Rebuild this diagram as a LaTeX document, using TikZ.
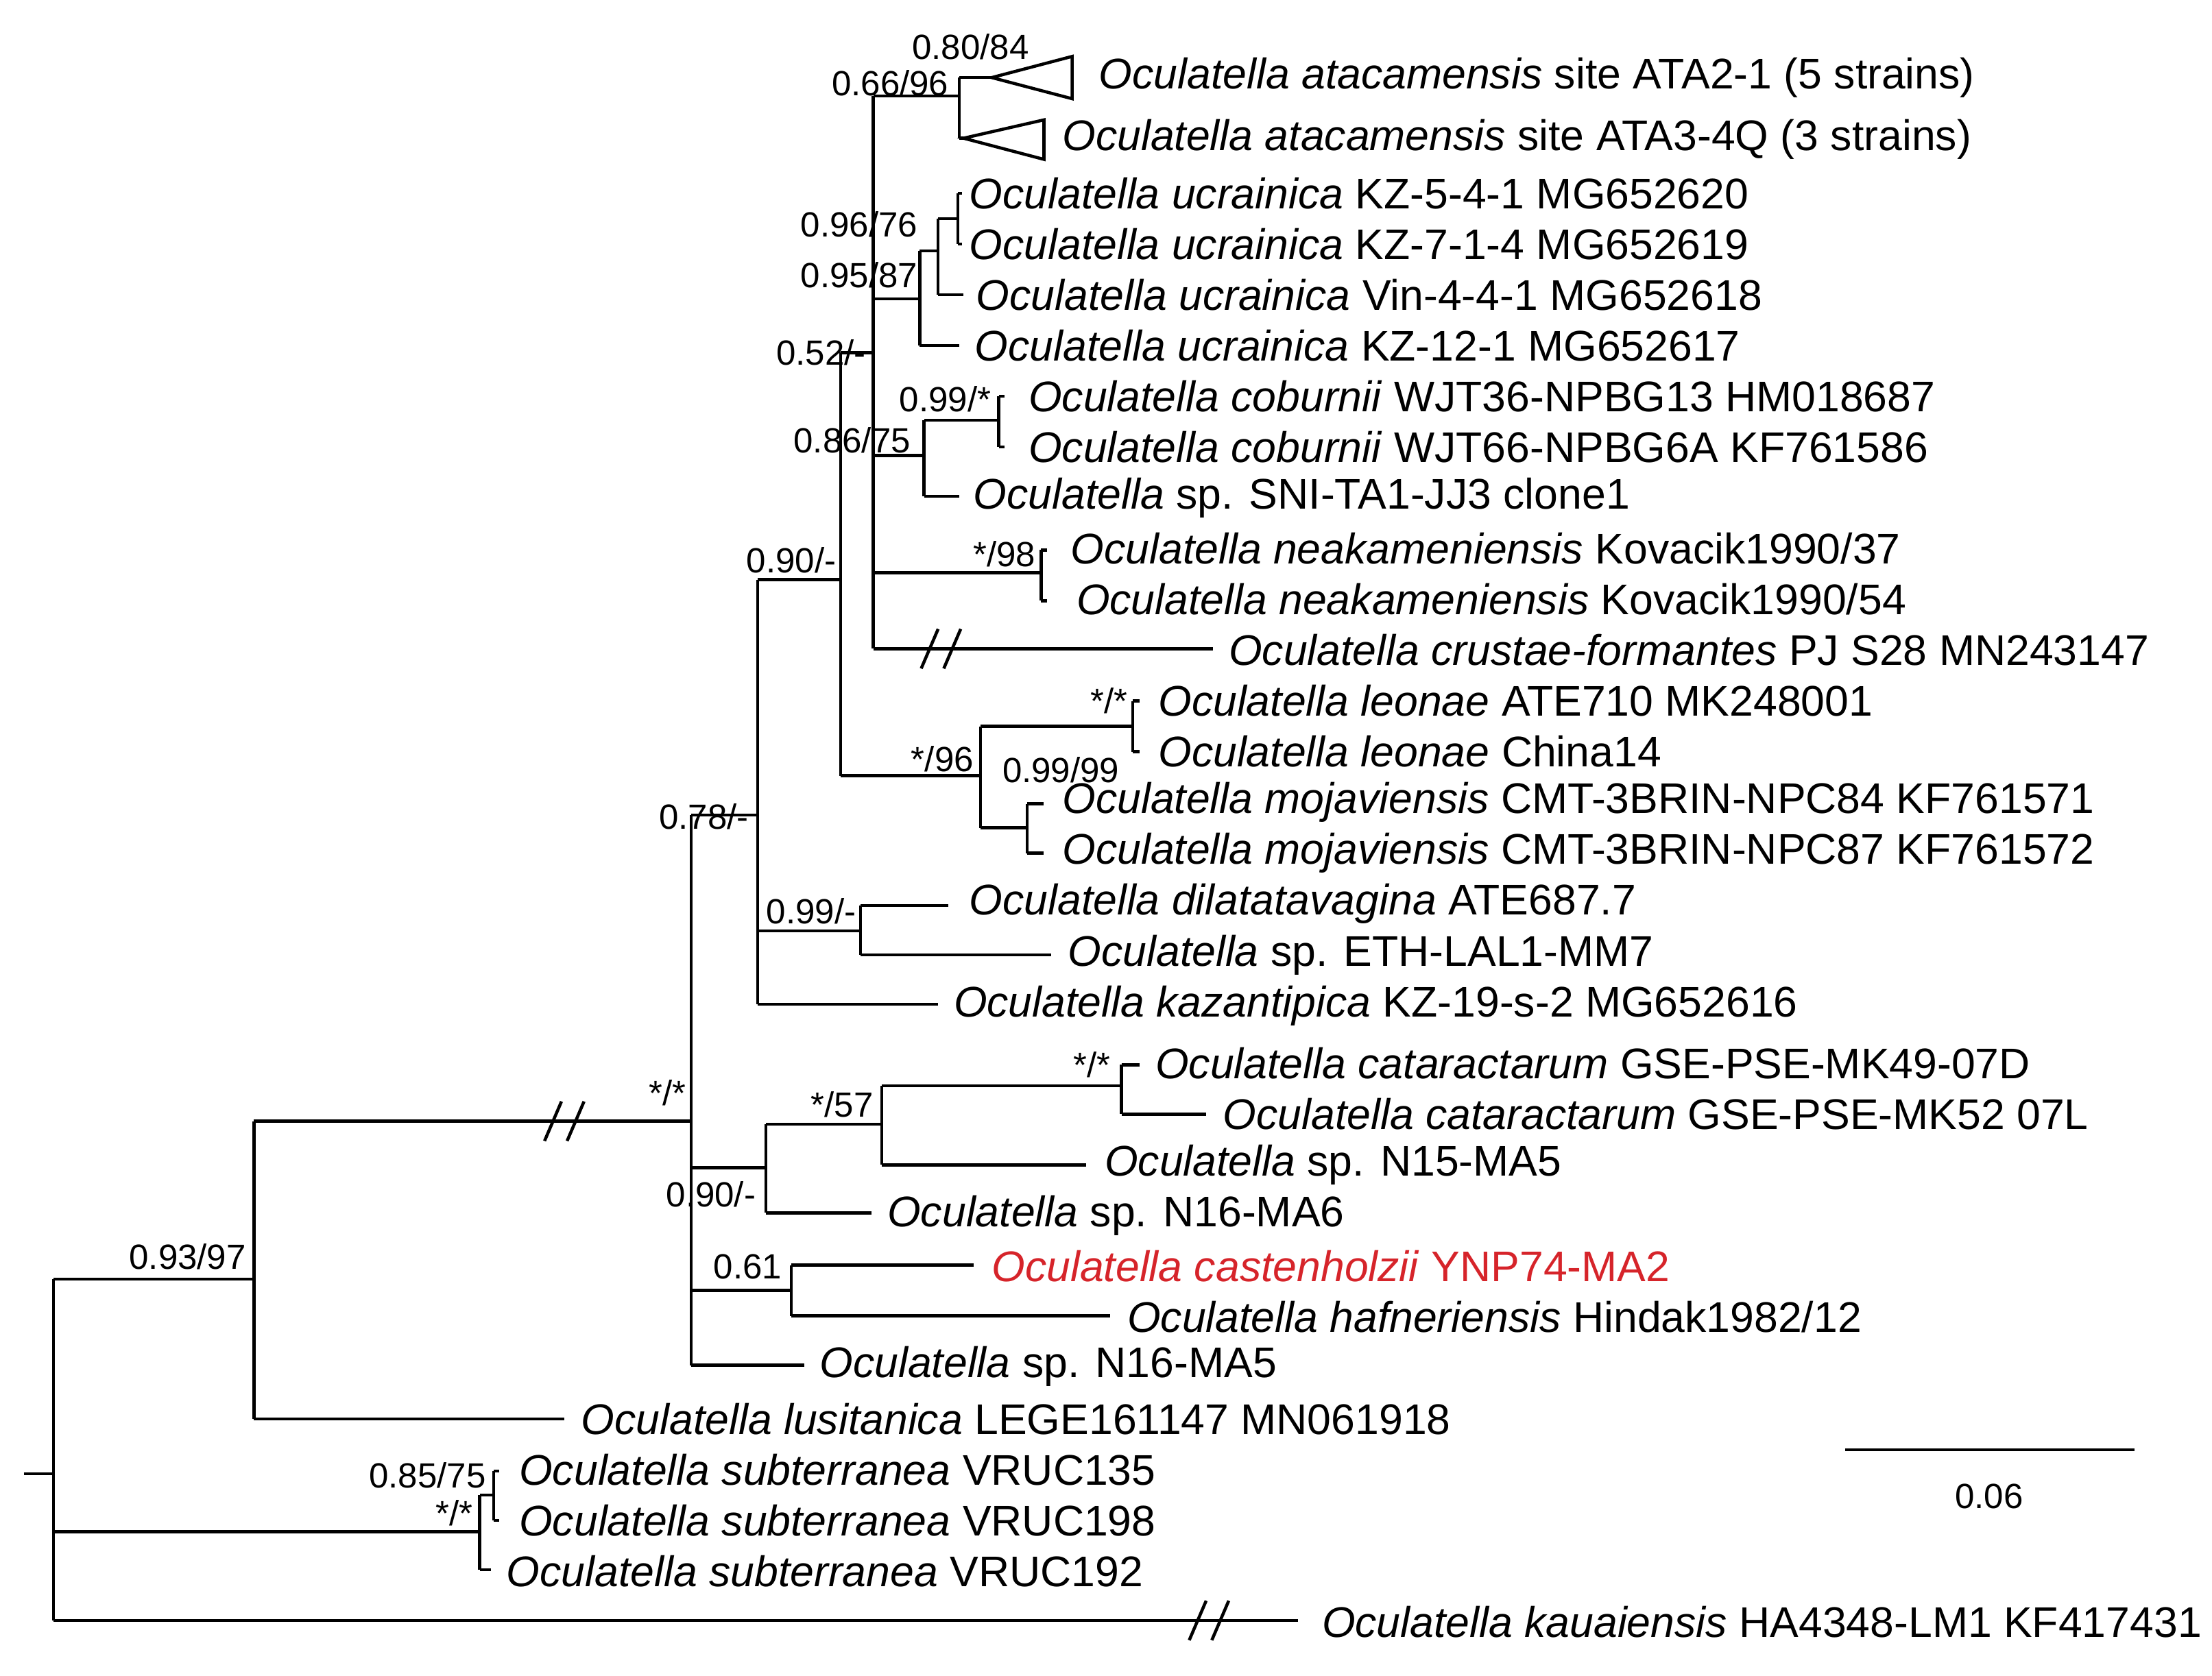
\documentclass[tikz,border=0pt]{standalone}
\usepackage{fontspec}
\setmainfont{Liberation Sans}
\begin{document}
\begin{tikzpicture}[x=0.5pt,y=-0.5pt,line width=1.1pt,
  lf/.style={anchor=west,font=\fontsize{15.2}{17}\selectfont,inner sep=0pt},
  sp/.style={font=\fontsize{12.4}{14}\selectfont,inner sep=0pt},
  br/.style={line width=1.1pt}]
\useasboundingbox (0,0) rectangle (1568,1188);
\newcommand{\brk}[2]{\draw[br] (#1-14,#2+14)--(#1-2,#2-14); \draw[br] (#1+2,#2+14)--(#1+14,#2-14);}
% root
\draw (17,1045)--(38,1045); \draw (38,907)--(38,1149);
\draw (38,907)--(180,907); \draw (180,795)--(180,1006);
\draw (180,795)--(490,795); \brk{400}{795}
\draw (490,578)--(490,968);
\draw (490,578)--(537,578); \draw (537,411)--(537,712);
\draw (537,411)--(596,411); \draw (596,250)--(596,550);
\draw (596,250)--(619,250); \draw (619,68)--(619,460);
% atacamensis
\draw (619,68)--(680,68); \draw (680,55)--(680,98);
\draw (680,55)--(703,55); \draw (703,55)--(760,40)--(760,70)--cycle;
\draw (680,98)--(683,98); \draw (683,98)--(740,85)--(740,113)--cycle;
\node[lf] at (778,55) {\textit{Oculatella atacamensis} site ATA2-1 (5 strains)};
\node[lf] at (752,99) {\textit{Oculatella atacamensis} site ATA3-4Q (3 strains)};
% ucrainica
\draw (619,212)--(652,212); \draw (652,178)--(652,245);
\draw (652,245)--(680,245); \draw (652,178)--(665,178); \draw (665,155)--(665,209);
\draw (665,209)--(683,209); \draw (665,155)--(679,155); \draw (679,137)--(679,173);
\draw (679,137)--(682,137); \draw (679,173)--(682,173);
\node[lf] at (686,137) {\textit{Oculatella ucrainica} KZ-5-4-1 MG652620};
\node[lf] at (686,173) {\textit{Oculatella ucrainica} KZ-7-1-4 MG652619};
\node[lf] at (691,209) {\textit{Oculatella ucrainica} Vin-4-4-1 MG652618};
\node[lf] at (690,245) {\textit{Oculatella ucrainica} KZ-12-1 MG652617};
% coburnii
\draw (619,323)--(655,323); \draw (655,298)--(655,352);
\draw (655,352)--(680,352); \draw (655,298)--(708,298); \draw (708,281)--(708,317);
\draw (708,281)--(712,281); \draw (708,317)--(712,317);
\node[lf] at (728,281) {\textit{Oculatella coburnii} WJT36-NPBG13 HM018687};
\node[lf] at (728,317) {\textit{Oculatella coburnii} WJT66-NPBG6A KF761586};
\node[lf] at (689,353) {\textit{Oculatella} sp. SNI-TA1-JJ3 clone1};
% neakameniensis
\draw (619,406)--(738,406); \draw (738,390)--(738,426);
\draw (738,390)--(742,390); \draw (738,426)--(742,426);
\node[lf] at (758,389) {\textit{Oculatella neakameniensis} Kovacik1990/37};
\node[lf] at (762,425) {\textit{Oculatella neakameniensis} Kovacik1990/54};
% crustae
\draw (619,460)--(860,460); \brk{667}{460}
\node[lf] at (870,461) {\textit{Oculatella crustae-formantes} PJ S28 MN243147};
% leonae / mojaviensis
\draw (596,550)--(695,550); \draw (695,515)--(695,587);
\draw (695,515)--(803,515); \draw (803,497)--(803,533);
\draw (803,497)--(808,497); \draw (803,533)--(808,533);
\node[lf] at (820,497) {\textit{Oculatella leonae} ATE710 MK248001};
\node[lf] at (820,533) {\textit{Oculatella leonae} China14};
\draw (695,587)--(728,587); \draw (728,570)--(728,605);
\draw (728,570)--(740,570); \draw (728,605)--(740,605);
\node[lf] at (752,569) {\textit{Oculatella mojaviensis} CMT-3BRIN-NPC84 KF761571};
\node[lf] at (752,605) {\textit{Oculatella mojaviensis} CMT-3BRIN-NPC87 KF761572};
% dilatata
\draw (537,660)--(610,660); \draw (610,642)--(610,677);
\draw (610,642)--(672,642); \draw (610,677)--(745,677);
\node[lf] at (686,641) {\textit{Oculatella dilatatavagina} ATE687.7};
\node[lf] at (756,677) {\textit{Oculatella} sp. ETH-LAL1-MM7};
\draw (537,712)--(665,712);
\node[lf] at (675,713) {\textit{Oculatella kazantipica} KZ-19-s-2 MG652616};
% cataractarum clade
\draw (490,828)--(543,828); \draw (543,797)--(543,860);
\draw (543,797)--(625,797); \draw (625,770)--(625,826);
\draw (625,770)--(795,770); \draw (795,755)--(795,790);
\draw (795,755)--(808,755); \draw (795,790)--(855,790);
\node[lf] at (818,754) {\textit{Oculatella cataractarum} GSE-PSE-MK49-07D};
\node[lf] at (866,790) {\textit{Oculatella cataractarum} GSE-PSE-MK52 07L};
\draw (625,826)--(770,826);
\node[lf] at (782,826) {\textit{Oculatella} sp. N15-MA5};
\draw (543,860)--(618,860);
\node[lf] at (628,862) {\textit{Oculatella} sp. N16-MA6};
% castenholzii
\draw (490,915)--(561,915); \draw (561,897)--(561,933);
\draw (561,897)--(690,897); \draw (561,933)--(787,933);
\node[lf,text={rgb,255:red,214;green,36;blue,42}] at (702,898) {\textit{Oculatella castenholzii} YNP74-MA2};
\node[lf] at (798,934) {\textit{Oculatella hafneriensis} Hindak1982/12};
\draw (490,968)--(570,968);
\node[lf] at (580,969) {\textit{Oculatella} sp. N16-MA5};
\draw (180,1006)--(400,1006);
\node[lf] at (411,1006) {\textit{Oculatella lusitanica} LEGE161147 MN061918};
% subterranea
\draw (38,1086)--(340,1086); \draw (340,1060)--(340,1113);
\draw (340,1060)--(350,1060); \draw (350,1043)--(350,1078);
\draw (350,1043)--(354,1043); \draw (350,1078)--(354,1078);
\draw (340,1113)--(348,1113);
\node[lf] at (367,1042) {\textit{Oculatella subterranea} VRUC135};
\node[lf] at (367,1078) {\textit{Oculatella subterranea} VRUC198};
\node[lf] at (358,1114) {\textit{Oculatella subterranea} VRUC192};
% kauaiensis
\draw (38,1149)--(920,1149); \brk{857}{1149}
\node[lf] at (936,1150) {\textit{Oculatella kauaiensis} HA4348-LM1 KF417431};
% scale
\draw (1308,1028)--(1513,1028);
\node[sp] at (1410,1061) {0.06};
% support values
\node[sp] at (688,33) {0.80/84};
\node[sp] at (631,59) {0.66/96};
\node[sp] at (609,159) {0.96/76};
\node[sp] at (609,195) {0.95/87};
\node[sp] at (582,250) {0.52/-};
\node[sp] at (670,283) {0.99/*};
\node[sp] at (604,312) {0.86/75};
\node[sp] at (712,393) {*/98};
\node[sp] at (561,397) {0.90/-};
\node[sp] at (786,497) {*/*};
\node[sp] at (668,538) {*/96};
\node[sp] at (752,546) {0.99/99};
\node[sp] at (499,579) {0.78/-};
\node[sp] at (575,646) {0.99/-};
\node[sp] at (473,775) {*/*};
\node[sp] at (774,755) {*/*};
\node[sp] at (597,783) {*/57};
\node[sp] at (504,847) {0.90/-};
\node[sp] at (530,898) {0.61};
\node[sp] at (133,891) {0.93/97};
\node[sp] at (303,1046) {0.85/75};
\node[sp] at (322,1073) {*/*};
\end{tikzpicture}
\end{document}
